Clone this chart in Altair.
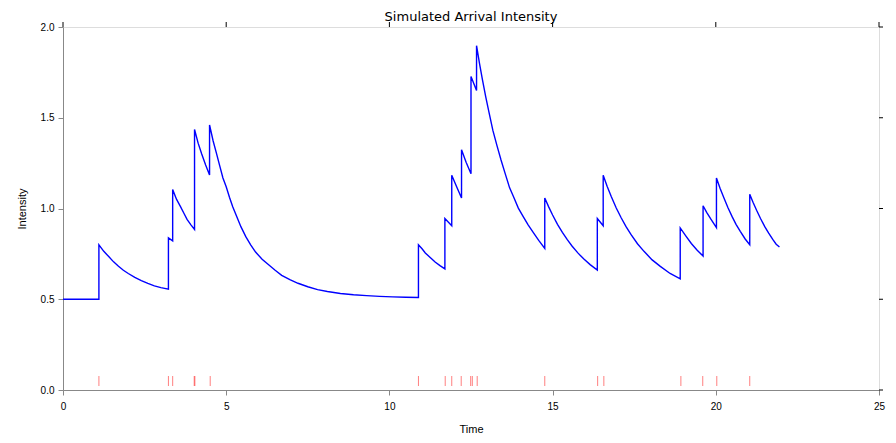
import altair as alt
import pandas as pd

# Intensity curve (repeated times = jumps at arrivals)
curve_t = [0.00, 1.10,
           1.10, 1.25, 1.40, 1.55, 1.70, 1.85, 2.00, 2.20, 2.40, 2.60, 2.80, 3.00, 3.23,
           3.23, 3.36,
           3.36, 3.48, 3.60, 3.70, 3.80, 3.92, 4.03,
           4.03, 4.14, 4.25, 4.37, 4.49,
           4.49, 4.60, 4.70, 4.80, 4.90, 5.00, 5.10, 5.20, 5.30, 5.45, 5.60, 5.75, 5.90,
           6.10, 6.30, 6.50, 6.70, 6.95, 7.20, 7.50, 7.80, 8.10, 8.50, 8.90, 9.30, 9.70,
           10.10, 10.50, 10.89,
           10.89, 11.00, 11.10, 11.25, 11.40, 11.55, 11.70,
           11.70, 11.91,
           11.91, 12.06, 12.21,
           12.21, 12.35, 12.50,
           12.50, 12.67,
           12.67, 12.76, 12.85, 12.95, 13.05, 13.17, 13.30, 13.42, 13.55, 13.68, 13.80,
           13.95, 14.10, 14.25, 14.40, 14.58, 14.76,
           14.76, 14.88, 15.00, 15.15, 15.30, 15.45, 15.60, 15.78, 15.95, 16.15, 16.37,
           16.37, 16.55,
           16.55, 16.67, 16.80, 16.95, 17.10, 17.25, 17.40, 17.60, 17.80, 18.05, 18.30,
           18.60, 18.91,
           18.91, 19.08, 19.25, 19.43, 19.61,
           19.61, 19.72, 19.85, 20.02,
           20.02, 20.13, 20.25, 20.37, 20.50, 20.62, 20.75, 20.90, 21.04,
           21.04, 21.14, 21.25, 21.37, 21.50, 21.62, 21.75, 21.85, 21.95]
curve_y = [0.500, 0.500,
           0.800, 0.764, 0.735, 0.706, 0.682, 0.660, 0.642, 0.620, 0.603, 0.587, 0.574, 0.564, 0.556,
           0.838, 0.822,
           1.104, 1.050, 1.010, 0.975, 0.940, 0.910, 0.885,
           1.435, 1.360, 1.300, 1.240, 1.185,
           1.460, 1.372, 1.305, 1.236, 1.168, 1.120, 1.062, 1.010, 0.965, 0.900, 0.845, 0.800, 0.760,
           0.720, 0.690, 0.660, 0.632, 0.608, 0.588, 0.569, 0.553, 0.543, 0.532, 0.525, 0.520, 0.516,
           0.513, 0.511, 0.510,
           0.800, 0.778, 0.755, 0.730, 0.705, 0.685, 0.667,
           0.945, 0.905,
           1.183, 1.120, 1.058,
           1.324, 1.255, 1.192,
           1.727, 1.650,
           1.897, 1.799, 1.710, 1.617, 1.531, 1.430, 1.344, 1.267, 1.191, 1.115, 1.066,
           1.002, 0.955, 0.910, 0.870, 0.823, 0.780,
           1.058, 1.009, 0.964, 0.913, 0.868, 0.828, 0.792, 0.754, 0.723, 0.691, 0.661,
           0.945, 0.905,
           1.183, 1.123, 1.065, 1.003, 0.949, 0.900, 0.857, 0.806, 0.764, 0.717, 0.681,
           0.642, 0.612,
           0.893, 0.849, 0.807, 0.770, 0.738,
           1.015, 0.979, 0.941, 0.894,
           1.168, 1.112, 1.058, 1.005, 0.955, 0.913, 0.874, 0.832, 0.800,
           1.079, 1.034, 0.990, 0.945, 0.900, 0.864, 0.828, 0.803, 0.788]

# Arrival (event) times shown as red ticks
event_t = [1.10, 3.23, 3.36, 4.02, 4.04, 4.51, 10.89, 11.71, 11.91, 12.20,
           12.49, 12.54, 12.69, 14.76, 16.38, 16.57, 18.93, 19.60, 20.03, 21.04]
event_y = [0.05] * len(event_t)

x_ticks = [0, 5, 10, 15, 20, 25]
y_ticks = [0.0, 0.5, 1.0, 1.5, 2.0]

W, H = 816, 363

curve = pd.DataFrame({"t": curve_t, "y": curve_y, "i": list(range(len(curve_t)))})
events = pd.DataFrame({"t": event_t, "y": event_y})
xt = pd.DataFrame({"v": x_ticks})
yt = pd.DataFrame({"v": y_ticks})

xscale = alt.Scale(domain=[0, 25], nice=False, zero=False)
yscale = alt.Scale(domain=[0, 2.0], nice=False, zero=False)

line = alt.Chart(curve).mark_line(color="#0000ff", strokeWidth=1.4).encode(
    x=alt.X("t:Q", scale=xscale, title="Time",
            axis=alt.Axis(values=x_ticks, format="d", grid=False, tickSize=5,
                          labelFlush=False, labelPadding=6, titlePadding=12,
                          titleFontWeight="normal")),
    y=alt.Y("y:Q", scale=yscale, title="Intensity",
            axis=alt.Axis(values=y_ticks, format=".1f", grid=False, tickSize=5,
                          labelFlush=False, labelPadding=4, titlePadding=13,
                          titleFontWeight="normal")),
    order="i:Q",
)

ticks = alt.Chart(events).mark_tick(color="#ff0000", opacity=0.5, thickness=1, size=10,
                                    orient="vertical").encode(
    x=alt.X("t:Q", scale=xscale),
    y=alt.Y("y:Q", scale=yscale),
)

top_ticks = alt.Chart(xt).mark_rule(color="black", strokeWidth=1).encode(
    x=alt.X("v:Q", scale=xscale),
    y=alt.value(0),
    y2=alt.value(-5),
)
right_ticks = alt.Chart(yt).mark_rule(color="black", strokeWidth=1).encode(
    y=alt.Y("v:Q", scale=yscale),
    x=alt.value(W),
    x2=alt.value(W + 4),
)

chart = alt.layer(line, ticks, top_ticks, right_ticks).properties(
    width=W, height=H,
    title=alt.TitleParams("Simulated Arrival Intensity", fontSize=13, font="DejaVu Sans",
                          fontWeight="normal", color="black", offset=0, dy=2),
    autosize=alt.AutoSizeParams(type="none"),
    padding={"left": 55, "top": 19, "right": 9, "bottom": 45},
).configure_view(
    stroke="black", strokeWidth=1
).configure_axis(
    domainColor="black", tickColor="black", labelColor="black", titleColor="black",
    labelFont="DejaVu Sans", titleFont="DejaVu Sans", labelFontSize=11, titleFontSize=11,
    titleFontWeight="normal"
).configure(background="white")

chart.save("out.html", embed_options={"renderer": "svg", "actions": False})
